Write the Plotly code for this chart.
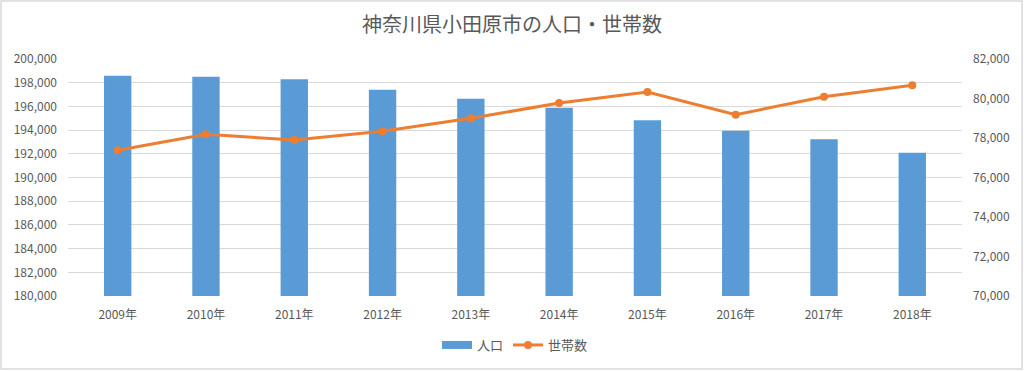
import plotly.graph_objects as go

years = ["2009年", "2010年", "2011年", "2012年", "2013年", "2014年", "2015年", "2016年", "2017年", "2018年"]
population = [198593, 198509, 198284, 197412, 196653, 195893, 194824, 193952, 193221, 192096]
households = [77375, 78186, 77899, 78338, 78996, 79772, 80329, 79181, 80093, 80667]

left_ticks = list(range(180000, 200001, 2000))
right_ticks = list(range(70000, 82001, 2000))

FONT = "Noto Sans CJK JP, Noto Sans, sans-serif"
GRAY = "#595959"
BLUE = "#5B9BD5"
ORANGE = "#ED7D31"

fig = go.Figure()
fig.add_trace(go.Bar(
    x=years, y=population, name="人口",
    marker=dict(color=BLUE, line=dict(width=0)),
    width=0.31, yaxis="y", showlegend=False,
))
# legend-only entry giving the wide bar swatch
fig.add_trace(go.Scatter(
    x=[None], y=[None], name="人口", mode="lines",
    line=dict(color=BLUE, width=8), yaxis="y", hoverinfo="skip",
))
fig.add_trace(go.Scatter(
    x=years, y=households, name="世帯数", mode="lines+markers",
    line=dict(color=ORANGE, width=3),
    marker=dict(color=ORANGE, size=8),
    yaxis="y2",
))

ml, mr, mt, mb = 68, 62, 59, 75
W, H = 1024, 371
pw, ph = W - ml - mr, H - mt - mb

fig.update_layout(
    width=W, height=H,
    margin=dict(l=ml, r=mr, t=mt, b=mb, autoexpand=False),
    paper_bgcolor="white", plot_bgcolor="white",
    font=dict(family=FONT, color=GRAY, size=12),
    title=dict(text="神奈川県小田原市の人口・世帯数", x=0.5, xanchor="center",
               y=1 - 25 / H, yanchor="middle",
               font=dict(size=20, color=GRAY, family=FONT)),
    xaxis=dict(showgrid=False, showline=False, ticks="", ticklabelstandoff=10,
               tickfont=dict(size=12, color=GRAY)),
    yaxis=dict(range=[180000, 200000], tickvals=left_ticks, tickformat=",d",
               showgrid=True, gridcolor="#D9D9D9", gridwidth=1, zeroline=False,
               showline=False, ticks="", ticklabelstandoff=10,
               tickfont=dict(size=12, color=GRAY)),
    yaxis2=dict(range=[70000, 82000], tickvals=right_ticks, tickformat=",d",
                overlaying="y", side="right", showgrid=False, zeroline=False,
                showline=False, ticks="", ticklabelstandoff=10,
                tickfont=dict(size=12, color=GRAY)),
    legend=dict(orientation="h", x=0.5, xanchor="center",
                y=(296 - 345) / ph, yanchor="middle",
                font=dict(size=13, color=GRAY), bgcolor="rgba(0,0,0,0)"),
    showlegend=True,
)

fig.add_shape(type="rect", xref="paper", yref="paper",
              x0=(1 - ml) / pw, x1=(W - 2 - ml) / pw,
              y0=(296 - (H - 2)) / ph, y1=(296 - 1) / ph,
              line=dict(color="#D9D9D9", width=1.5), fillcolor="rgba(0,0,0,0)", layer="below")

fig.write_html("out.html", config={"displayModeBar": False},
               post_script="document.body.style.margin='0';document.body.style.overflow='hidden';")
